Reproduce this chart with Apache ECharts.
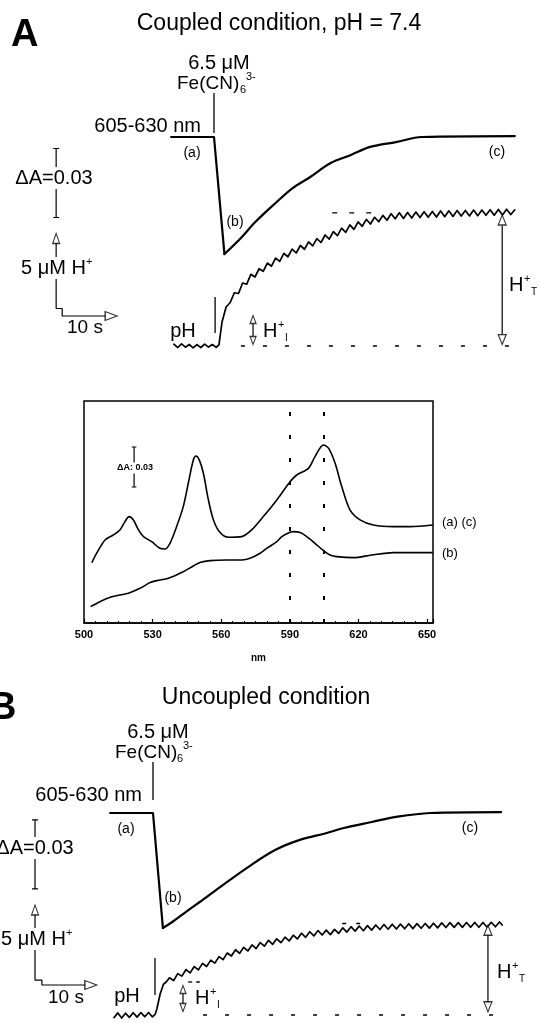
<!DOCTYPE html>
<html><head><meta charset="utf-8">
<script src="https://cdn.jsdelivr.net/npm/echarts/dist/echarts.min.js"></script>
<style>html,body{margin:0;padding:0;background:#fff}#c{width:540px;height:1023px}</style>
</head><body><div id="c"></div>
<script>
// ---------- Panel A (coupled) : 605-630 nm trace, time (s) after Fe(CN)6 addition, dA ----------
const absTimeA = [-7.8, 0, 1.9, 4.9, 7.5, 11.2, 14.3, 17.5, 21.2, 24.9, 28.4, 33.1, 37.8, 54.7];
const absA = [0, 0, -0.0509, -0.0439, -0.0370, -0.0287, -0.0222, -0.0174, -0.0113, -0.0078, -0.0043, -0.0022, 0, 0.0004];
// Panel A pH trace (H+ released, uM)
const pHTimeA = [-7.3,-6.6,-5.9,-5.2,-4.5,-3.8,-3.1,-2.4,-1.7,-1.0,-0.3,0.4,0.9,1.45,
 2.2,2.95,3.7,4.45,5.2,5.95,6.7,7.45,8.2,8.95,
 9.7,10.45,11.2,11.95,12.7,13.45,14.2,14.95,15.7,16.45,
 17.2,17.95,18.7,19.45,20.2,20.95,21.7,22.45,23.2,23.95,
 24.7,25.45,26.2,26.95,27.7,28.45,29.2,29.95,30.7,31.45,
 32.2,32.95,33.7,34.45,35.2,35.95,36.7,37.45,38.2,38.95,
 39.7,40.45,41.2,41.95,42.7,43.45,44.2,44.95,45.7,46.45,
 47.2,47.95,48.7,49.45,50.2,50.95,51.7,52.45,53.2,53.95,54.7];
const pHA = [0.12,-0.10,0.14,-0.08,0.10,-0.12,0.09,-0.10,0.13,-0.07,0.10,-0.09,0.08,1.58,
 2.60,2.90,3.55,3.50,4.20,4.12,4.78,4.60,5.15,4.98,
 5.53,5.32,5.86,5.64,6.18,5.95,6.46,6.20,6.70,6.45,
 6.94,6.67,7.16,6.90,7.40,7.12,7.62,7.36,7.86,7.58,
 8.07,7.78,8.27,7.98,8.44,8.13,8.58,8.28,8.71,8.38,
 8.82,8.48,8.88,8.50,8.90,8.53,8.93,8.56,8.95,8.58,
 8.97,8.60,9.00,8.62,9.01,8.64,9.03,8.66,9.04,8.67,
 9.06,8.69,9.07,8.71,9.09,8.72,9.10,8.74,9.12,8.76,9.08];

// ---------- Difference spectra (nm, absorbance) ----------
const specNmAC = [503.4,505.5,509.2,512.8,515.7,517.9,519.7,521.6,523.8,526,529.6,533.2,535.4,537.6,540.5,543.4,545.6,547.8,549,550.4,552.2,554.4,556.6,559.5,563.1,569,573.3,578.4,584.3,590.1,593,598.1,601,604.7,607,609.8,612.7,616.3,620.7,626.5,635.3,642.6,652.5];
const specAC = [0.0452,0.0522,0.0623,0.066,0.0698,0.076,0.0798,0.0773,0.0698,0.0648,0.061,0.056,0.0555,0.0598,0.0723,0.0873,0.1048,0.1223,0.1253,0.1223,0.1123,0.0923,0.0773,0.0678,0.0643,0.0648,0.0698,0.0798,0.0923,0.106,0.111,0.116,0.1248,0.1335,0.131,0.1198,0.1023,0.0848,0.0773,0.0735,0.0723,0.0723,0.0735];
const specNmB = [502.9,507,511.4,515.7,519.4,524.5,528.9,531.8,536.9,543.4,547.8,550.7,555.1,562.4,569,572.6,577,579.9,584.3,586.5,590.1,591.5,594.5,597.4,601,604.7,607.6,610.5,617.8,625.8,635.3,644,652.5];
const specB = [0.0123,0.016,0.0193,0.021,0.0223,0.026,0.0303,0.0318,0.0335,0.0385,0.0428,0.0453,0.0468,0.0473,0.0473,0.0485,0.0523,0.056,0.061,0.0648,0.068,0.0685,0.0678,0.0648,0.0598,0.0543,0.051,0.0498,0.049,0.051,0.0528,0.0528,0.0528];
const specMarkers = [590, 605];
const nmTicks = [500, 530, 560, 590, 620, 650];

// ---------- Panel B (uncoupled) ----------
const absTimeB = [-7.8, 0, 1.8, 3.5, 6.0, 8.5, 12.2, 17.3, 22.2, 26.7, 31.6, 34.7, 39.8, 44.2, 50.4, 63.3];
const absB = [0, 0, -0.0500, -0.0474, -0.0430, -0.0387, -0.0322, -0.0235, -0.0161, -0.0117, -0.0087, -0.0065, -0.0039, -0.0017, 0, 0.0004];
const pHTimeB = [-7.1,-6.4,-5.7,-5.0,-4.3,-3.6,-2.9,-2.2,-1.5,-0.8,-0.1,0.4,0.7,1.3,1.9,2.4,
 3.0,3.75,4.5,5.25,6.0,6.75,7.5,8.25,9.0,9.75,
 10.5,11.25,12.0,12.75,13.5,14.25,15.0,15.75,16.5,17.25,
 18.0,18.75,19.5,20.25,21.0,21.75,22.5,23.25,24.0,24.75,
 25.5,26.25,27.0,27.75,28.5,29.25,30.0,30.75,31.5,32.25,
 33.0,33.75,34.5,35.25,36.0,36.75,37.5,38.25,39.0,39.75,
 40.5,41.25,42.0,42.75,43.5,44.25,45.0,45.75,46.5,47.25,
 48.0,48.75,49.5,50.25,51.0,51.75,52.5,53.25,54.0,54.75,
 55.5,56.25,57.0,57.75,58.5,59.25,60.0,60.75,61.5,62.25,63.0,63.5];
const pHB = [-0.18,0.14,-0.20,0.12,-0.16,0.15,-0.14,0.16,-0.12,0.17,-0.13,0.05,0.40,1.40,2.05,2.20,
 2.48,2.29,2.76,2.59,3.03,2.81,3.23,3.01,3.44,3.23,
 3.66,3.46,3.89,3.69,4.13,3.93,4.35,4.11,4.51,4.27,
 4.67,4.43,4.83,4.59,4.98,4.71,5.08,4.82,5.19,4.94,
 5.32,5.07,5.45,5.18,5.55,5.27,5.63,5.33,5.66,5.36,
 5.71,5.44,5.81,5.53,5.89,5.59,5.93,5.62,5.96,5.66,
 6.00,5.70,6.03,5.72,6.05,5.73,6.06,5.75,6.08,5.76,
 6.09,5.78,6.10,5.79,6.12,5.81,6.14,5.83,6.16,5.84,
 6.16,5.84,6.17,5.85,6.17,5.85,6.17,5.85,6.18,5.88,6.20,6.00];

// scale-bar values
const scaleDA = 0.03, scaleH = 5, scaleT = 10;

// ---------- helpers ----------
const FONT = "'Liberation Sans', Arial, Helvetica, sans-serif";
const zip = (a, b) => a.map((v, i) => [v, b[i]]);
function seg(xi, yi, pts, w, dash) {
  return {type:'line', xAxisIndex:xi, yAxisIndex:yi, data:pts, symbol:'none', silent:true, animation:false,
    lineStyle:{color:'#000', width:w || 1.2, type: dash || 'solid'}, z:3};
}
function trace(xi, yi, pts, w, smooth) {
  return {type:'line', xAxisIndex:xi, yAxisIndex:yi, data:pts, symbol:'none', silent:true, animation:false,
    smooth: smooth || false, lineStyle:{color:'#000', width:w, cap:'round', join:'round'}, z:2};
}
function heads(xi, yi, pts) {
  return {type:'scatter', xAxisIndex:xi, yAxisIndex:yi, silent:true, animation:false, z:4,
    data: pts.map(p => ({value:[p[0], p[1]], symbol:'triangle', symbolRotate:p[2], symbolSize:[p[3], p[4]]})),
    itemStyle:{color:'#fff', borderColor:'#000', borderWidth:1.2}};
}
function txt(x, y, s, size, align, extra) {
  const st = Object.assign({text:s, fontSize:size, fontFamily:FONT, fill:'#000', align:align || 'center', verticalAlign:'middle'}, extra || {});
  return {type:'text', x:x, y:y, z:100, silent:true, style:st};
}
const mask = {backgroundColor:'#fff', padding:[1, 1]};

// ---------- series ----------
const series = [];
// Panel A : drop (sharp) + recovery (smooth)
const absPtsA = zip(absTimeA, absA);
series.push(trace(0, 0, absPtsA.slice(0, 3), 2.2));
series.push(trace(0, 0, absPtsA.slice(2), 2.2, 0.35));
series.push(trace(0, 1, zip(pHTimeA, pHA), 1.7));
series.push(seg(0, 0, [[0, 0.0191], [0, 0.0017]], 1.3));
series.push(seg(0, 1, [[0.2, 3.27], [0.2, 0.87]], 1.3));
series.push(seg(0, 1, [[4.9, 0], [55.1, 0]], 1.3, [4, 18]));
series.push(seg(0, 1, [[21.5, 8.87], [29.5, 8.87]], 1.3, [5, 12]));
series.push(seg(0, 1, [[52.4, 8.0], [52.4, 0.8]], 1.2));
series.push(seg(0, 1, [[7.1, 1.47], [7.1, 0.67]], 1.2));
// A scale bars
const tBarA = -28.7;
series.push(seg(0, 0, [[tBarA, -0.005], [tBarA, -0.005 - scaleDA]], 1.2));
series.push(seg(0, 0, [[tBarA - 0.55, -0.005], [tBarA + 0.55, -0.005]], 1.2));
series.push(seg(0, 0, [[tBarA - 0.55, -0.005 - scaleDA], [tBarA + 0.55, -0.005 - scaleDA]], 1.2));
series.push(seg(0, 1, [[tBarA, 2.5 + scaleH - 0.6], [tBarA, 2.5], [-27.6, 2.5], [-27.6, 2.0], [-27.6 + scaleT - 2.0, 2.0]], 1.2));
series.push(heads(0, 1, [
  [tBarA, 2.5 + scaleH - 0.33, 0, 7, 10],
  [-27.6 + scaleT - 1.1, 2.0, -90, 9, 12],
  [52.4, 8.4, 0, 8, 10], [52.4, 0.43, 180, 8, 10],
  [7.1, 1.77, 0, 6, 8], [7.1, 0.37, 180, 6, 8]
]));

// Spectrum panel
series.push({type:'line', xAxisIndex:1, yAxisIndex:2, data:zip(specNmAC, specAC), symbol:'none', smooth:0.3, silent:true, animation:false,
  lineStyle:{color:'#000', width:1.6}, z:2,
  markLine:{silent:true, symbol:'none', animation:false, label:{show:false},
    lineStyle:{color:'#000', width:2, type:[4, 19]},
    data: specMarkers.map(v => ({xAxis:v}))}});
series.push({type:'line', xAxisIndex:1, yAxisIndex:2, data:zip(specNmB, specB), symbol:'none', smooth:0.3, silent:true, animation:false, lineStyle:{color:'#000', width:1.6}, z:2});
series.push(seg(1, 2, [[521.9, 0.132], [521.9, 0.132 - scaleDA]], 1.2));
series.push(seg(1, 2, [[520.9, 0.132], [522.9, 0.132]], 1.2));
series.push(seg(1, 2, [[520.9, 0.102], [522.9, 0.102]], 1.2));

// Panel B
const absPtsB = zip(absTimeB, absB);
series.push(trace(2, 3, absPtsB.slice(0, 3), 2.2));
series.push(trace(2, 3, absPtsB.slice(2), 2.2, 0.35));
series.push(trace(2, 4, zip(pHTimeB, pHB), 1.7));
series.push(seg(2, 3, [[0, 0.0222], [0, 0.0057]], 1.3));
series.push(seg(2, 4, [[0.36, 3.8], [0.36, 1.33]], 1.3));
series.push(seg(2, 4, [[9.1, 0], [63.6, 0]], 1.3, [4, 18]));
series.push(seg(2, 4, [[34.4, 6.1], [39.1, 6.1]], 1.3, [4, 10]));
series.push(seg(2, 4, [[6.4, 2.2], [8.5, 2.2]], 1.3, [4, 4]));
series.push(seg(2, 4, [[60.9, 5.3], [60.9, 0.7]], 1.2));
series.push(seg(2, 4, [[5.45, 1.4], [5.45, 0.8]], 1.2));
const tBarB = -21.45;
series.push(seg(2, 3, [[tBarB, -0.003], [tBarB, -0.003 - scaleDA]], 1.2));
series.push(seg(2, 3, [[tBarB - 0.55, -0.003], [tBarB + 0.55, -0.003]], 1.2));
series.push(seg(2, 3, [[tBarB - 0.55, -0.003 - scaleDA], [tBarB + 0.55, -0.003 - scaleDA]], 1.2));
series.push(seg(2, 4, [[tBarB, 2.33 + scaleH - 0.6], [tBarB, 2.33], [-20.2, 2.33], [-20.2, 2.0], [-20.2 + scaleT - 2.0, 2.0]], 1.2));
series.push(heads(2, 4, [
  [tBarB, 2.33 + scaleH - 0.33, 0, 7, 10],
  [-20.2 + scaleT - 1.1, 2.0, -90, 9, 12],
  [60.9, 5.65, 0, 8, 10], [60.9, 0.55, 180, 8, 10],
  [5.45, 1.7, 0, 6, 8], [5.45, 0.5, 180, 6, 8]
]));

// ---------- text ----------
const graphic = [
  txt(11, 36, 'A', 38, 'left', {fontWeight:'bold'}),
  txt(279, 24, 'Coupled condition, pH = 7.4', 23),
  txt(219, 63, '6.5 \u03bcM', 20),
  txt(177, 84, 'Fe(CN)', 19, 'left'),
  txt(240, 90, '6', 11, 'left'),
  txt(246, 77, '3-', 11, 'left'),
  txt(201, 126, '605-630 nm', 20, 'right'),
  txt(192, 153, '(a)', 14),
  txt(235, 222, '(b)', 14),
  txt(497, 152, '(c)', 14),
  txt(54, 178, '\u0394A=0.03', 20, 'center', mask),
  txt(20, 268, '5 \u03bcM H', 20, 'left', mask),
  txt(86, 262, '+', 11, 'left'),
  txt(85, 328, '10 s', 19),
  txt(183, 331, 'pH', 20),
  txt(263, 331, 'H', 20, 'left'),
  txt(278, 325, '+', 11, 'left'),
  txt(285, 338, 'I', 10, 'left'),
  txt(509, 285, 'H', 20, 'left'),
  txt(524, 279, '+', 11, 'left'),
  txt(531, 292, 'T', 10, 'left'),
  // spectrum
  txt(135, 468, '\u0394A: 0.03', 9, 'center', Object.assign({fontWeight:'bold'}, mask)),
  txt(442, 522, '(a) (c)', 13, 'left'),
  txt(442, 553, '(b)', 13, 'left'),
  // B
  txt(-11, 709, 'B', 38, 'left', {fontWeight:'bold'}),
  txt(266, 698, 'Uncoupled condition', 23),
  txt(158, 732, '6.5 \u03bcM', 20),
  txt(115, 753, 'Fe(CN)', 19, 'left'),
  txt(177, 759, '6', 11, 'left'),
  txt(183, 746, '3-', 11, 'left'),
  txt(142, 795, '605-630 nm', 20, 'right'),
  txt(126, 829, '(a)', 14),
  txt(173, 898, '(b)', 14),
  txt(470, 828, '(c)', 14),
  txt(35, 848, '\u0394A=0.03', 20, 'center', mask),
  txt(0, 939, '5 \u03bcM H', 20, 'left', mask),
  txt(66, 933, '+', 11, 'left'),
  txt(66, 998, '10 s', 19),
  txt(127, 996, 'pH', 20),
  txt(195, 998, 'H', 20, 'left'),
  txt(210, 992, '+', 11, 'left'),
  txt(217, 1005, 'I', 10, 'left'),
  txt(497, 972, 'H', 20, 'left'),
  txt(512, 966, '+', 11, 'left'),
  txt(519, 979, 'T', 10, 'left')
];

const hiddenX = (gi, mn, mx) => ({type:'value', gridIndex:gi, min:mn, max:mx, show:false});
const hiddenY = (gi, mn, mx) => ({type:'value', gridIndex:gi, min:mn, max:mx, show:false});

const option = {
  backgroundColor:'#fff',
  animation:false,
  grid:[
    {left:0, top:90, width:540, height:270},
    {left:84, top:401, width:349, height:222, show:true, borderColor:'#000', borderWidth:1.5, backgroundColor:'transparent'},
    {left:0, top:760, width:540, height:263}
  ],
  xAxis:[
    hiddenX(0, -214 / 5.5, 326 / 5.5),
    {type:'value', gridIndex:1, min:nmTicks[0], max:652.6, interval:30,
      axisLine:{show:true, onZero:false, lineStyle:{color:'#000', width:1.5}},
      axisTick:{show:true, inside:true, length:4, lineStyle:{color:'#000', width:1.2}},
      minorTick:{show:true, splitNumber:6, length:2, lineStyle:{color:'#000', width:1}},
      splitLine:{show:false}, minorSplitLine:{show:false},
      axisLabel:{color:'#000', fontSize:11, fontWeight:'bold', fontFamily:FONT, margin:6,
        formatter: v => (nmTicks.indexOf(Math.round(v * 10) / 10) >= 0 ? String(v) : '')},
      name:'nm', nameLocation:'middle', nameGap:30,
      nameTextStyle:{color:'#000', fontSize:10, fontWeight:'bold', fontFamily:FONT}},
    hiddenX(2, -153 / 5.5, 387 / 5.5)
  ],
  yAxis:[
    hiddenY(0, -223 / 2300, 47 / 2300),
    hiddenY(0, -14 / 15, 256 / 15),
    {type:'value', gridIndex:1, min:0, max:0.1665, show:false},
    hiddenY(2, -210 / 2300, 53 / 2300),
    hiddenY(2, -8 / 15, 255 / 15)
  ],
  series: series,
  graphic: graphic
};

const chart = echarts.init(document.getElementById('c'), null, {renderer:'canvas'});
chart.setOption(option);
</script></body></html>
